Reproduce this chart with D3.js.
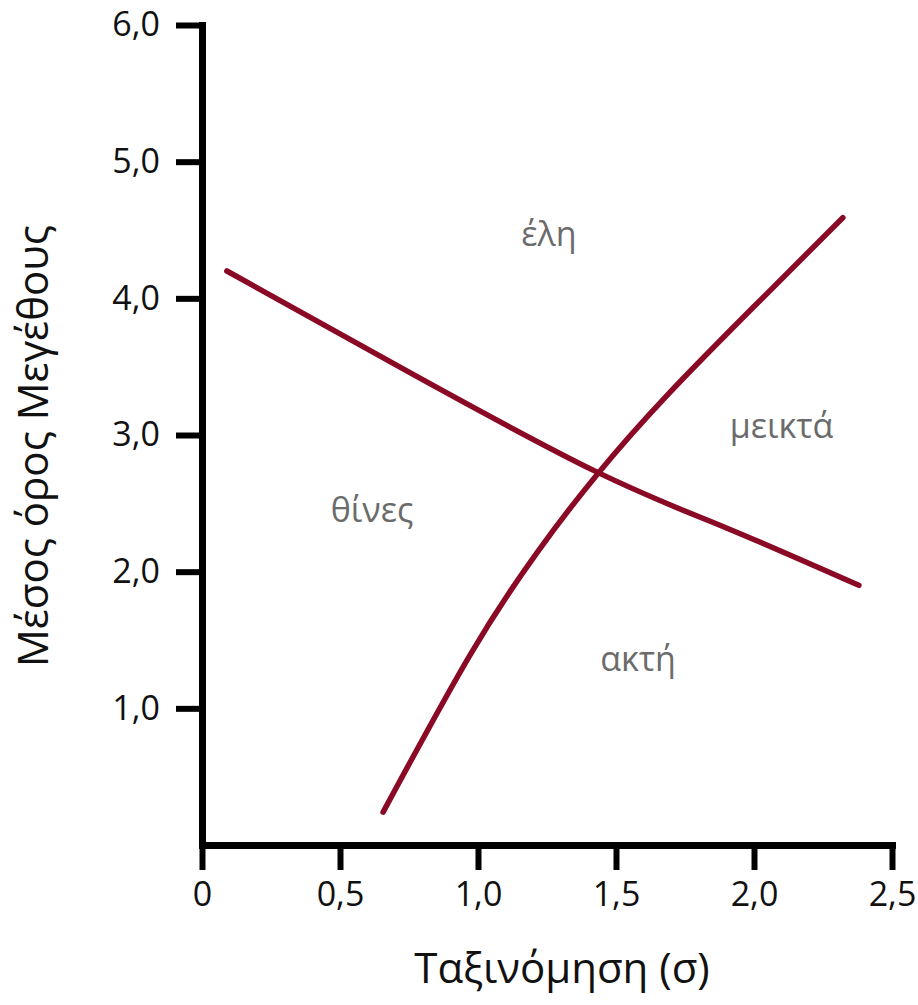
<!DOCTYPE html>
<html>
<head>
<meta charset="utf-8">
<script src="https://cdn.jsdelivr.net/npm/d3@7"></script>
<style>
  html, body { margin: 0; padding: 0; background: #fff; }
  svg { display: block; font-family: "Open Sans", "Noto Sans", sans-serif; }
</style>
</head>
<body>
<svg id="chart" width="918" height="1005"></svg>
<script>
// ---- data ----
const xTicks = [0, 0.5, 1.0, 1.5, 2.0, 2.5];
const xTickLabels = ["0", "0,5", "1,0", "1,5", "2,0", "2,5"];
const yTicks = [1, 2, 3, 4, 5, 6];
const yTickLabels = ["1,0", "2,0", "3,0", "4,0", "5,0", "6,0"];

// declining boundary
const line1X = [0.09, 0.75, 1.43, 1.90, 2.38];
const line1Y = [4.20, 3.46, 2.73, 2.32, 1.90];

// rising boundary
const line2X = [0.656, 0.971, 1.214, 1.431, 1.685, 2.00, 2.322];
const line2Y = [0.24, 1.39, 2.14, 2.71, 3.29, 3.94, 4.59];

const regionNames = ["έλη", "μεικτά", "θίνες", "ακτή"];
const regionX = [1.257, 2.10, 0.616, 1.58];
const regionY = [4.38, 2.98, 2.36, 1.27];

const xTitle = "Ταξινόμηση (σ)";
const yTitle = "Μέσος όρος Μεγέθους";

// ---- chart ----
const svg = d3.select("#chart");
const x = d3.scaleLinear().domain([0, 2.5]).range([202, 892]);
const y = d3.scaleLinear().domain([0, 6]).range([845, 25]);

const lineColor = "#8a0a26";
const axisW = 7;

// y axis
const yAxis = svg.append("g").attr("transform", `translate(${x(0)},0)`)
  .call(d3.axisLeft(y).tickValues(yTicks).tickFormat((d, i) => yTickLabels[i]).tickSize(26).tickSizeOuter(0).tickPadding(16));
yAxis.select(".domain").attr("stroke", "#000").attr("stroke-width", axisW).attr("stroke-linecap", "square");
yAxis.selectAll(".tick line").attr("stroke", "#000").attr("stroke-width", 6);
yAxis.selectAll(".tick text").attr("fill", "#111").style("font-size", "34px").style("font-family", "'Open Sans'");

// x axis
const xAxis = svg.append("g").attr("transform", `translate(0,${y(0)})`)
  .call(d3.axisBottom(x).tickValues(xTicks).tickFormat((d, i) => xTickLabels[i]).tickSize(25).tickSizeOuter(0).tickPadding(12));
xAxis.select(".domain").attr("stroke", "#000").attr("stroke-width", axisW).attr("stroke-linecap", "square");
xAxis.selectAll(".tick line").attr("stroke", "#000").attr("stroke-width", 6);
xAxis.selectAll(".tick text").attr("fill", "#111").style("font-size", "34px").style("font-family", "'Open Sans'");

// lines
const lineGen = d3.line().x(d => x(d[0])).y(d => y(d[1])).curve(d3.curveNatural);
const l1 = line1X.map((v, i) => [v, line1Y[i]]);
const l2 = line2X.map((v, i) => [v, line2Y[i]]);
[l1, l2].forEach(pts => {
  svg.append("path").datum(pts)
    .attr("d", lineGen)
    .attr("fill", "none")
    .attr("stroke", lineColor)
    .attr("stroke-width", 5.5)
    .attr("stroke-linecap", "round");
});

// region labels
svg.selectAll("text.region").data(regionNames).enter().append("text")
  .attr("class", "region")
  .attr("x", (d, i) => x(regionX[i]))
  .attr("y", (d, i) => y(regionY[i]))
  .attr("text-anchor", "middle")
  .attr("fill", "#6b6b6b")
  .style("font-size", "34px")
  .text(d => d);

// axis titles
svg.append("text")
  .attr("x", 562).attr("y", 983)
  .attr("text-anchor", "middle")
  .attr("fill", "#111")
  .style("font-size", "42px")
  .text(xTitle);

svg.append("text")
  .attr("transform", "translate(48,446) rotate(-90)")
  .attr("text-anchor", "middle")
  .attr("fill", "#111")
  .style("font-size", "42px")
  .text(yTitle);
</script>
</body>
</html>
